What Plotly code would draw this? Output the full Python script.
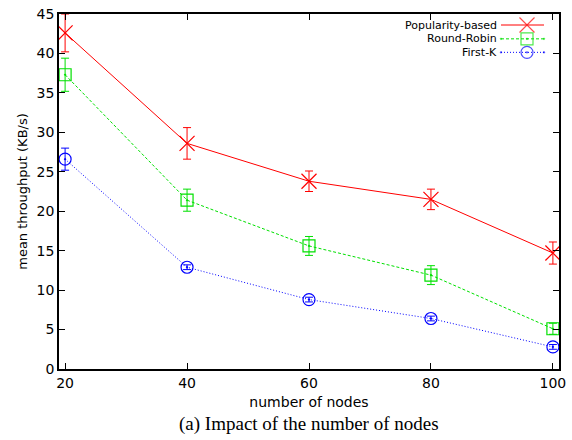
import plotly.graph_objects as go

# Number of nodes on the x axis
nodes = [20, 40, 60, 80, 100]

# Mean throughput (KB/s) and error half-widths per scheme
popularity = [42.6, 28.6, 23.8, 21.5, 14.7]
popularity_err = [2.4, 2.0, 1.3, 1.3, 1.4]

round_robin = [37.3, 21.4, 15.6, 11.9, 5.1]
round_robin_err = [2.1, 1.4, 1.2, 1.2, 0.7]

first_k = [26.6, 12.9, 8.8, 6.4, 2.8]
first_k_err = [1.4, 0.3, 0.3, 0.3, 0.3]

names = ["Popularity-based", "Round-Robin", "First-K"]
colors = ["#ff0000", "#00e000", "#0000ff"]
dashes = ["solid", "3px,2px", "1px,2px"]
symbols = ["x-thin-open", "square-open-dot", "circle-open-dot"]
sizes = [15, 12, 12]

series = [(popularity, popularity_err), (round_robin, round_robin_err), (first_k, first_k_err)]

fig = go.Figure()

for (vals, errs), name, c, d, s, sz in zip(series, names, colors, dashes, symbols, sizes):
    fig.add_trace(go.Scatter(
        x=nodes, y=vals, name=name, mode="lines+markers",
        line=dict(color=c, width=1, dash=d),
        marker=dict(symbol=s, size=sz, color=c, line=dict(color=c, width=1.2)),
        error_y=dict(type="data", array=errs, visible=True, color=c, thickness=1, width=4),
        showlegend=False,
    ))

# Key in the upper right: right-aligned labels followed by line samples
key_rows = [0.969, 0.930, 0.892]
for name, c, d, s, sz, ky in zip(names, colors, dashes, symbols, sizes, key_rows):
    fig.add_trace(go.Scatter(
        x=[0.884, 0.936, 0.97], y=[ky, ky, ky], xaxis="x2", yaxis="y2",
        mode="lines+markers", showlegend=False, hoverinfo="skip",
        line=dict(color=c, width=1, dash=d),
        marker=dict(symbol=[s, s, s], size=[0, sz, 0], color=c, line=dict(color=c, width=1.2)),
    ))
    fig.add_annotation(
        x=0.88, y=ky, xref="paper", yref="paper", text=name, showarrow=False,
        xanchor="right", yanchor="middle",
        font=dict(family="DejaVu Sans", size=11, color="#000000"),
    )

axis_common = dict(
    showline=True, linecolor="#000000", linewidth=1.5, mirror="ticks",
    ticks="inside", ticklen=6, tickwidth=1, tickcolor="#000000",
    showgrid=False, zeroline=False, automargin=False,
    tickfont=dict(family="DejaVu Sans", size=14, color="#000000"),
)

fig.update_layout(
    width=572, height=440,
    margin=dict(l=59, r=13, t=14, b=71),
    plot_bgcolor="#ffffff", paper_bgcolor="#ffffff",
    xaxis=dict(
        range=[19, 101], tickvals=nodes,
        title=dict(text="number of nodes", standoff=8,
                   font=dict(family="DejaVu Sans", size=14, color="#000000")),
        **axis_common,
    ),
    yaxis=dict(
        range=[0, 45], dtick=5,
        title=dict(text="mean throughput (KB/s)", standoff=6,
                   font=dict(family="DejaVu Sans", size=13, color="#000000")),
        **axis_common,
    ),
    xaxis2=dict(overlaying="x", range=[0, 1], visible=False, domain=[0, 1]),
    yaxis2=dict(overlaying="y", range=[0, 1], visible=False),
)

fig.add_annotation(
    x=0.5, y=-0.118, xref="paper", yref="paper", yanchor="top",
    text="(a) Impact of the number of nodes", showarrow=False,
    font=dict(family="Liberation Serif", size=19, color="#000000"),
)

fig.write_html("out.html")
